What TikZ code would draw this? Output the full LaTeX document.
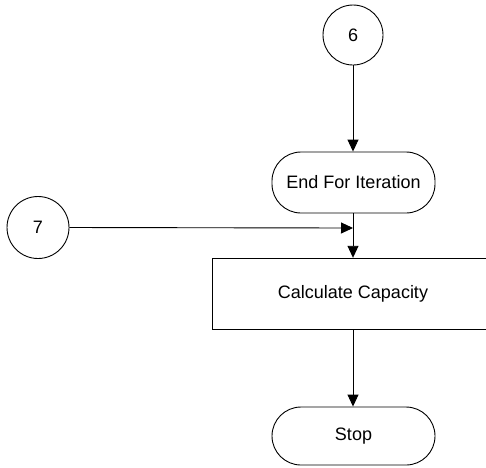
\documentclass[tikz,border=0pt]{standalone}
\usepackage{fontspec}
\setmainfont{Liberation Sans}
\usetikzlibrary{arrows.meta}
\begin{document}
\begin{tikzpicture}[x=1pt,y=-1pt,
  every node/.style={font=\fontsize{18}{21}\selectfont, line width=0.9pt, draw=black, inner sep=0pt},
  connector circle/.style={circle, minimum size=#1},
  terminal/.style={rectangle, rounded corners=29pt, minimum width=163pt, minimum height=#1},
  process/.style={rectangle, minimum width=282pt, minimum height=71pt},
  flow/.style={line width=0.9pt, -{Triangle[length=12pt,width=11pt]}}]
\clip (0,0) rectangle (486,467);
\useasboundingbox (0,0) rectangle (486,467);
\node[connector circle=60pt] (c6) at (353,35) {6};
\node[terminal=61pt] (endfor) at (353.5,182.5) {End For Iteration};
\node[connector circle=62pt] (c7) at (38,227.5) {7};
\node[process] (calc) at (353,293.75) {Calculate Capacity};
\node[terminal=58pt] (stop) at (353.5,436) {Stop};
\coordinate (j) at (353,228);
\draw[flow] (c6.south) -- (c6.south |- endfor.north);
\draw[flow] (c7.east) -- (j);
\draw[flow] (endfor.south -| j) -- (j |- calc.north);
\draw[flow] (calc.south) -- (calc.south |- stop.north);
\end{tikzpicture}
\end{document}
